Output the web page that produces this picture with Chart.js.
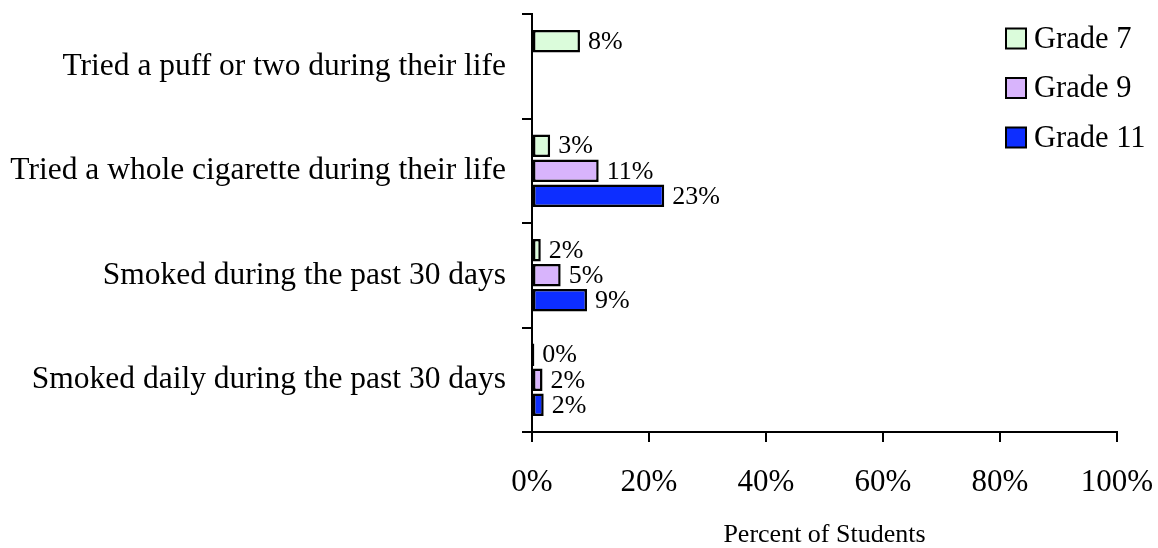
<!DOCTYPE html>
<html>
<head>
<meta charset="utf-8">
<script src="https://cdn.jsdelivr.net/npm/chart.js@4.4.1/dist/chart.umd.min.js"></script>
<style>
  html, body { margin: 0; padding: 0; background: #fff; }
  #wrap { width: 1158px; height: 548px; }
</style>
</head>
<body>
<div id="wrap"><canvas id="chart" width="1158" height="548"></canvas></div>
<script>
// categories (top to bottom)
const categories = [
  "Tried a puff or two during their life",
  "Tried a whole cigarette during their life",
  "Smoked during the past 30 days",
  "Smoked daily during the past 30 days",
];

// percent of students
const grade7 = [8.2, 3.1, 1.5, 0.4];
const grade9 = [null, 11.4, 4.9, 1.8];
const grade11 = [null, 22.6, 9.4, 2.0];

const seriesNames = ["Grade 7", "Grade 9", "Grade 11"];
const xTickValues = [0, 20, 40, 60, 80, 100];
const xTickLabels = ["0%", "20%", "40%", "60%", "80%", "100%"];
const axisTitle = "Percent of Students";

const SERIF = "'Liberation Serif', 'Times New Roman', serif";
const colors = ["#dbfcdb", "#d8b4fc", "#0d2eff"];

// labels at the end of each bar
const barValueLabels = {
  id: "barValueLabels",
  afterDatasetsDraw(chart) {
    const ctx = chart.ctx;
    ctx.save();
    ctx.font = "26px " + SERIF;
    ctx.fillStyle = "#000";
    ctx.textAlign = "left";
    ctx.textBaseline = "middle";
    chart.data.datasets.forEach((ds, i) => {
      const meta = chart.getDatasetMeta(i);
      meta.data.forEach((bar, j) => {
        const v = ds.data[j];
        if (v === null || v === undefined) return;
        ctx.fillText(Math.round(v) + "%", bar.x + 8, bar.y + 1);
      });
    });
    ctx.restore();
  },
};

// legend drawn inside the plot, top right
const boxLegend = {
  id: "boxLegend",
  afterDraw(chart) {
    const ctx = chart.ctx;
    ctx.save();
    ctx.font = "30.5px " + SERIF;
    ctx.textBaseline = "middle";
    chart.data.datasets.forEach((ds, i) => {
      const cy = 38.5 + i * 49.5;
      ctx.fillStyle = ds.backgroundColor;
      ctx.fillRect(1006, cy - 10, 20, 20);
      ctx.lineWidth = 2;
      ctx.strokeStyle = "#000";
      ctx.strokeRect(1006, cy - 10, 20, 20);
      ctx.fillStyle = "#000";
      ctx.fillText(ds.label, 1034, cy + 1);
    });
    ctx.restore();
  },
};

const datasets = [grade7, grade9, grade11].map((vals, i) => ({
  label: seriesNames[i],
  data: vals,
  backgroundColor: colors[i],
  borderColor: "#000",
  borderWidth: 2.5,
  borderSkipped: false,
  categoryPercentage: 0.72,
  barPercentage: 0.9,
}));

new Chart(document.getElementById("chart"), {
  type: "bar",
  data: { labels: categories, datasets },
  plugins: [barValueLabels, boxLegend],
  options: {
    indexAxis: "y",
    responsive: false,
    animation: false,
    layout: { padding: { left: 0, right: 41, top: 14, bottom: 0 } },
    plugins: {
      legend: { display: false },
      tooltip: { enabled: false },
    },
    scales: {
      x: {
        min: 0,
        max: 100,
        afterBuildTicks: (axis) => {
          axis.ticks = xTickValues.map((v) => ({ value: v }));
        },
        afterFit: (axis) => {
          axis.height = 116;
          axis.paddingLeft = 0;
          axis.paddingRight = 0;
        },
        border: { display: true, color: "#000", width: 2 },
        grid: {
          drawOnChartArea: false,
          drawTicks: true,
          tickLength: 10,
          color: "#000",
          lineWidth: 2,
        },
        ticks: {
          color: "#000",
          padding: 25,
          font: { family: SERIF, size: 31, lineHeight: 1 },
          maxRotation: 0,
          callback: (v) => xTickLabels[xTickValues.indexOf(v)],
        },
        title: {
          display: true,
          text: axisTitle,
          color: "#000",
          font: { family: SERIF, size: 26, lineHeight: 1 },
          padding: { top: 24, bottom: 0 },
        },
      },
      y: {
        afterFit: (axis) => {
          axis.width = 532;
          axis.paddingTop = 0;
          axis.paddingBottom = 0;
        },
        border: { display: true, color: "#000", width: 2 },
        grid: {
          offset: true,
          drawOnChartArea: false,
          drawTicks: true,
          tickLength: 10,
          color: "#000",
          lineWidth: 2,
        },
        ticks: {
          color: "#000",
          padding: 16,
          font: { family: SERIF, size: 31.5 },
        },
      },
    },
  },
});
</script>
</body>
</html>
